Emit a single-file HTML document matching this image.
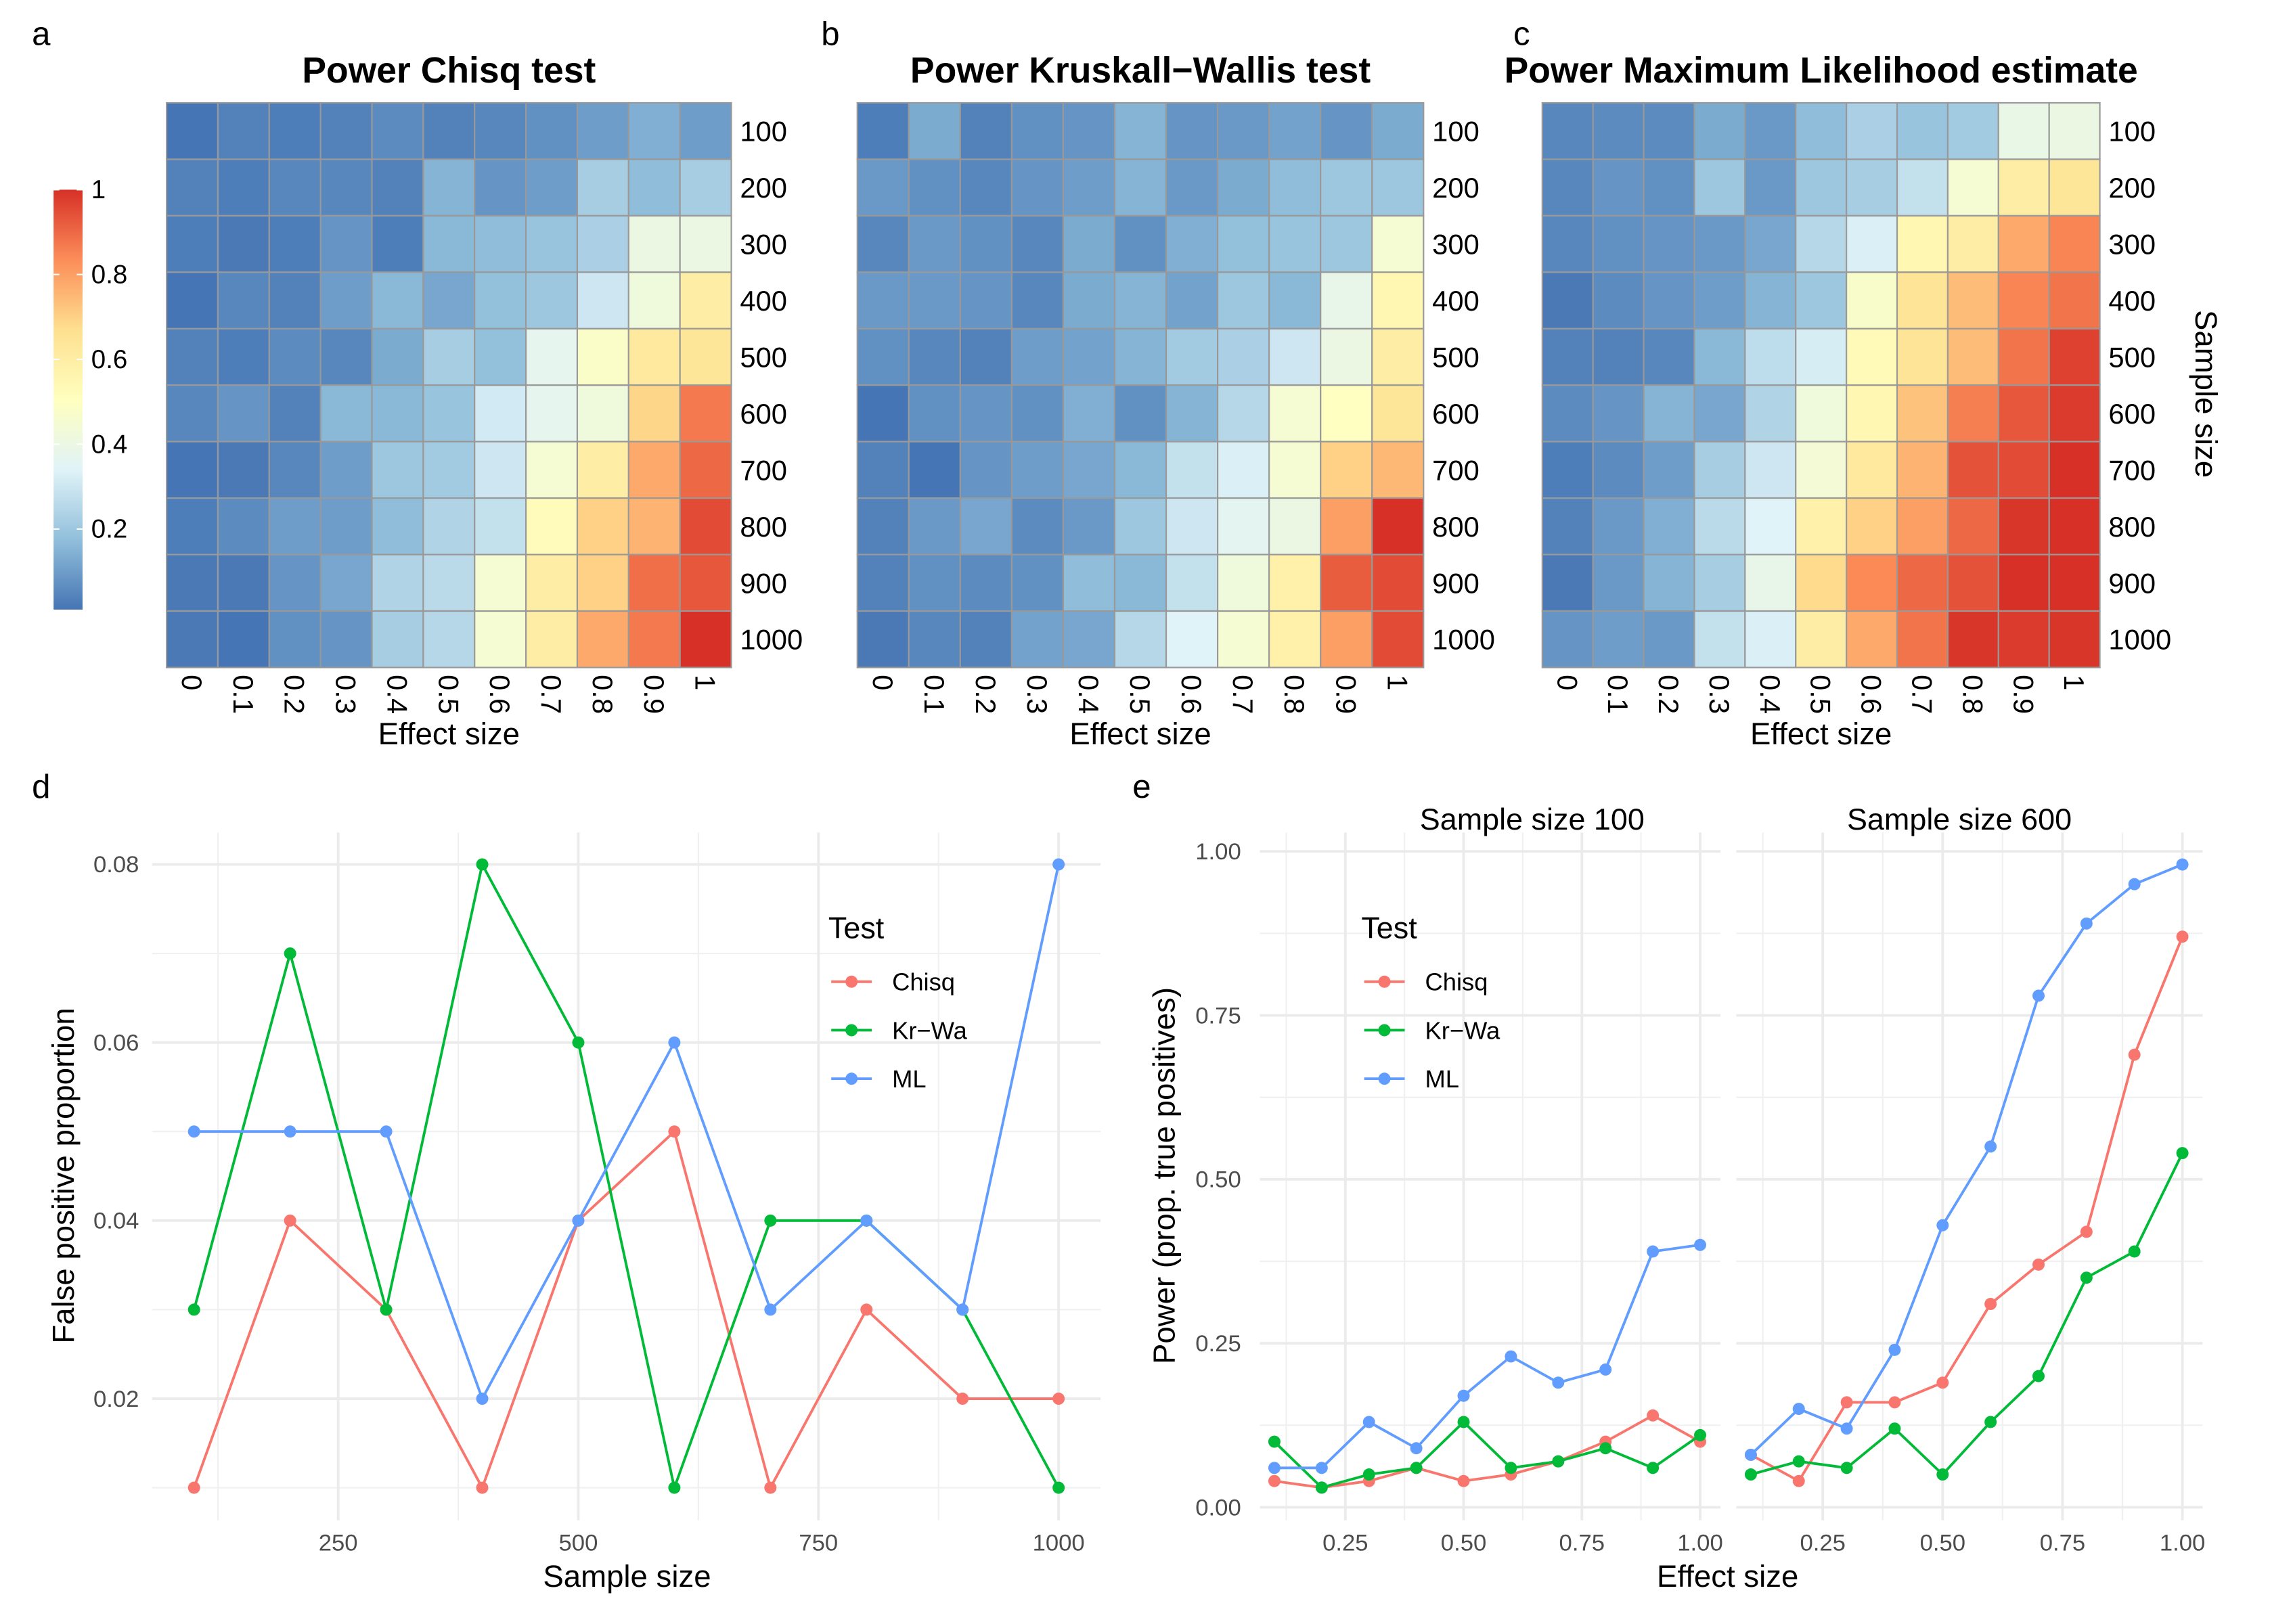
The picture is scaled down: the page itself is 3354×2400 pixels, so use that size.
<!DOCTYPE html>
<html><head><meta charset="utf-8"><style>
html,body{margin:0;padding:0;background:#fff}
svg{display:block;font-family:"Liberation Sans",sans-serif}
</style></head><body>
<svg id="fig" xmlns="http://www.w3.org/2000/svg" width="3354" height="2400" viewBox="0 0 1567.5 1121.6">
<rect width="1567.5" height="1121.6" fill="#fff"/>
<g id="root"></g>
</svg>
<script>
// ---------- Data ----------
const effectSizes = [0,0.1,0.2,0.3,0.4,0.5,0.6,0.7,0.8,0.9,1];
const effectLabels = ["0","0.1","0.2","0.3","0.4","0.5","0.6","0.7","0.8","0.9","1"];
const sampleSizes = [100,200,300,400,500,600,700,800,900,1000];
const powerChisq = [
[0.01,0.04,0.03,0.04,0.06,0.04,0.05,0.07,0.10,0.14,0.10],
[0.04,0.03,0.05,0.05,0.04,0.15,0.08,0.10,0.22,0.17,0.22],
[0.03,0.02,0.03,0.08,0.03,0.16,0.17,0.19,0.23,0.40,0.40],
[0.01,0.05,0.04,0.10,0.16,0.12,0.18,0.20,0.30,0.42,0.60],
[0.04,0.03,0.06,0.05,0.13,0.22,0.18,0.37,0.48,0.62,0.64],
[0.05,0.08,0.04,0.16,0.16,0.19,0.31,0.37,0.42,0.69,0.87],
[0.01,0.02,0.05,0.10,0.20,0.21,0.30,0.45,0.60,0.78,0.90],
[0.03,0.06,0.10,0.10,0.17,0.24,0.28,0.52,0.70,0.76,0.95],
[0.02,0.02,0.08,0.12,0.24,0.26,0.45,0.60,0.70,0.89,0.93],
[0.02,0.01,0.07,0.08,0.22,0.25,0.45,0.60,0.78,0.87,1.00]];
const powerKrWa = [
[0.03,0.13,0.04,0.07,0.08,0.15,0.08,0.09,0.11,0.08,0.13],
[0.09,0.07,0.05,0.08,0.10,0.15,0.09,0.13,0.17,0.20,0.20],
[0.05,0.09,0.07,0.05,0.13,0.07,0.14,0.18,0.19,0.20,0.45],
[0.09,0.09,0.08,0.05,0.13,0.15,0.11,0.20,0.16,0.38,0.55],
[0.07,0.05,0.04,0.10,0.11,0.15,0.21,0.23,0.30,0.40,0.60],
[0.01,0.07,0.08,0.07,0.14,0.07,0.15,0.25,0.45,0.50,0.64],
[0.04,0.01,0.08,0.10,0.12,0.16,0.28,0.33,0.45,0.70,0.75],
[0.04,0.09,0.12,0.06,0.09,0.20,0.30,0.36,0.40,0.80,1.00],
[0.04,0.07,0.06,0.07,0.17,0.16,0.28,0.42,0.58,0.92,0.95],
[0.02,0.05,0.04,0.11,0.12,0.25,0.34,0.45,0.58,0.80,0.95]];
const powerML = [
[0.05,0.06,0.06,0.13,0.09,0.17,0.23,0.19,0.21,0.39,0.40],
[0.05,0.08,0.07,0.20,0.09,0.20,0.22,0.28,0.45,0.60,0.64],
[0.05,0.07,0.08,0.09,0.12,0.25,0.33,0.55,0.60,0.78,0.85],
[0.02,0.06,0.08,0.10,0.15,0.20,0.47,0.65,0.74,0.85,0.88],
[0.04,0.04,0.05,0.16,0.27,0.32,0.53,0.65,0.74,0.88,0.97],
[0.06,0.08,0.15,0.12,0.24,0.42,0.55,0.73,0.86,0.93,0.98],
[0.03,0.06,0.10,0.22,0.30,0.44,0.62,0.76,0.94,0.95,1.00],
[0.04,0.09,0.14,0.26,0.34,0.58,0.70,0.80,0.90,0.99,1.00],
[0.02,0.09,0.15,0.22,0.38,0.68,0.84,0.90,0.94,1.00,1.00],
[0.08,0.10,0.09,0.28,0.33,0.60,0.78,0.88,0.99,0.98,0.99]];
const colorbarTicks = [0.2,0.4,0.6,0.8,1];
const colorbarLabels = ["0.2","0.4","0.6","0.8","1"];

const fpSamples = [100,200,300,400,500,600,700,800,900,1000];
const fpChisq = [0.01,0.04,0.03,0.01,0.04,0.05,0.01,0.03,0.02,0.02];
const fpKrWa  = [0.03,0.07,0.03,0.08,0.06,0.01,0.04,0.04,0.03,0.01];
const fpML    = [0.05,0.05,0.05,0.02,0.04,0.06,0.03,0.04,0.03,0.08];
const fpXTicks = [250,500,750,1000];
const fpYTicks = [0.02,0.04,0.06,0.08];
const fpYLabels = ["0.02","0.04","0.06","0.08"];

const effE = [0.1,0.2,0.3,0.4,0.5,0.6,0.7,0.8,0.9,1.0];
const e100Chisq = [0.04,0.03,0.04,0.06,0.04,0.05,0.07,0.10,0.14,0.10];
const e100KrWa  = [0.10,0.03,0.05,0.06,0.13,0.06,0.07,0.09,0.06,0.11];
const e100ML    = [0.06,0.06,0.13,0.09,0.17,0.23,0.19,0.21,0.39,0.40];
const e600Chisq = [0.08,0.04,0.16,0.16,0.19,0.31,0.37,0.42,0.69,0.87];
const e600KrWa  = [0.05,0.07,0.06,0.12,0.05,0.13,0.20,0.35,0.39,0.54];
const e600ML    = [0.08,0.15,0.12,0.24,0.43,0.55,0.78,0.89,0.95,0.98];
const eXTicks = [0.25,0.5,0.75,1.0];
const eXLabels = ["0.25","0.50","0.75","1.00"];
const eYTicks = [0,0.25,0.5,0.75,1.0];
const eYLabels = ["0.00","0.25","0.50","0.75","1.00"];

const seriesNames = ["Chisq","Kr\u2212Wa","ML"];
const seriesColors = ["#F8766D","#00BA38","#619CFF"];

// ---------- helpers ----------
const NS="http://www.w3.org/2000/svg";
const root=document.getElementById('root');
function mk(tag,attrs,parent,text){const e=document.createElementNS(NS,tag);for(const k in attrs)e.setAttribute(k,attrs[k]);if(text!==undefined)e.textContent=text;(parent||root).appendChild(e);return e;}
const pal=["#4575b4","#91bfdb","#e0f3f8","#ffffbf","#fee090","#fc8d59","#d73027"];
const vmin=0.01,vmax=1;
function hex(c){return [1,3,5].map(i=>parseInt(c.substr(i,2),16));}
function col(v){let t=(v-vmin)/(vmax-vmin);t=Math.max(0,Math.min(1,t));const p=t*(pal.length-1);const i=Math.min(pal.length-2,Math.floor(p));const f=p-i;const a=hex(pal[i]),b=hex(pal[i+1]);return "rgb("+a.map((x,j)=>Math.round(x+(b[j]-x)*f)).join(",")+")";}

// ---------- heatmaps ----------
function heatmap(data,x0,x1,y0,y1,title,letter,lx,name){
  const g=mk('g',{});
  
  
  const cw=(x1-x0)/effectSizes.length, ch=(y1-y0)/sampleSizes.length;
  const xs=i=>x0+i*cw, ys=j=>y0+j*ch;
  data.forEach((row,j)=>row.forEach((v,i)=>{
    const r=mk('rect',{x:xs(i),y:ys(j),width:cw,height:ch,fill:col(v),stroke:'#999',"stroke-width":1},g);
    
    
  }));
  sampleSizes.forEach((s,j)=>{const t=mk('text',{x:x1+6,y:ys(j)+ch/2+7,"font-size":19.5,fill:'#000'},g,String(s));
    });
  effectLabels.forEach((l,i)=>{const cx=xs(i)+cw/2;const t=mk('text',{x:0,y:0,"font-size":19.5,fill:'#000',transform:`translate(${cx-7},${y1+5}) rotate(90)`},g,l);
    });
  const tt=mk('text',{x:(x0+x1)/2,y:57,"font-size":25,"font-weight":"bold","text-anchor":"middle"},g,title);
  
  const xt=mk('text',{x:(x0+x1)/2,y:514,"font-size":21.3,"text-anchor":"middle"},g,"Effect size");
  
  const lt=mk('text',{x:lx,y:31,"font-size":23},g,letter);
  
}
heatmap(powerChisq,115,505,71,461,"Power Chisq test","a",22,"heatmap-chisq");
heatmap(powerKrWa,592,983,71,461,"Power Kruskall\u2212Wallis test","b",567,"heatmap-kruskal");
heatmap(powerML,1065,1450,71,461,"Power Maximum Likelihood estimate","c",1045,"heatmap-ml");
{const t=mk('text',{x:0,y:0,"font-size":21.3,"text-anchor":"middle",transform:"translate(1516,272) rotate(90)"},root,"Sample size");
}

// colorbar
{const g=mk('g',{});
 const d=mk('defs',{},g);const lg=mk('linearGradient',{id:'cb',x1:0,y1:1,x2:0,y2:0},d);
 pal.forEach((c,i)=>mk('stop',{offset:i/(pal.length-1),"stop-color":c},lg));
 const top=131,bot=421;const cy=v=>bot-(v-vmin)/(vmax-vmin)*(bot-top);
 mk('rect',{x:37,y:top,width:20,height:bot-top,fill:'url(#cb)'},g);
 colorbarTicks.forEach((v,i)=>{mk('line',{x1:37,x2:41,y1:cy(v),y2:cy(v),stroke:'#fff'},g);mk('line',{x1:53,x2:57,y1:cy(v),y2:cy(v),stroke:'#fff'},g);
  const t=mk('text',{x:63,y:cy(v)+6,"font-size":18},g,colorbarLabels[i]);});
}

// ---------- panel d ----------
{const g=mk('g',{});
 const X=v=>134+(v-100)*(731-134)/900, Y=v=>1027.5-(v-0.01)*(1027.5-597)/0.07;
 const L=105,R=760,T=575,B=1050;
 [125,375,625,875].forEach(v=>mk('line',{x1:X(v),x2:X(v),y1:T,y2:B,stroke:'#f0f0f0',"stroke-width":1},g));
 [0.01,0.03,0.05,0.07].forEach(v=>mk('line',{x1:L,x2:R,y1:Y(v),y2:Y(v),stroke:'#f0f0f0',"stroke-width":1},g));
 fpXTicks.forEach(v=>{mk('line',{x1:X(v),x2:X(v),y1:T,y2:B,stroke:'#ebebeb',"stroke-width":1.8},g);
  const t=mk('text',{x:X(v),y:1071,"font-size":16.2,fill:'#4d4d4d',"text-anchor":"middle"},g,String(v));});
 fpYTicks.forEach((v,i)=>{mk('line',{x1:L,x2:R,y1:Y(v),y2:Y(v),stroke:'#ebebeb',"stroke-width":1.8},g);
  const t=mk('text',{x:96,y:Y(v)+5.5,"font-size":16.2,fill:'#4d4d4d',"text-anchor":"end"},g,fpYLabels[i]);});
 [fpChisq,fpKrWa,fpML].forEach((arr,k)=>{
  const pl=mk('polyline',{points:arr.map((v,i)=>X(fpSamples[i])+","+Y(v)).join(" "),fill:'none',stroke:seriesColors[k],"stroke-width":1.8},g);
  
  arr.forEach((v,i)=>{const c=mk('circle',{cx:X(fpSamples[i]),cy:Y(v),r:4.2,fill:seriesColors[k]},g);});
 });
 const xt=mk('text',{x:433,y:1096,"font-size":21.3,"text-anchor":"middle"},g,"Sample size");
 const yt=mk('text',{x:0,y:0,"font-size":21.3,"text-anchor":"middle",transform:"translate(51,812) rotate(-90)"},g,"False positive proportion");
 const lt=mk('text',{x:22,y:551,"font-size":23},g,"d");
 legend(g,572);
}
function legend(g,x){
 const lg=mk('g',{},g);
 mk('text',{x:x,y:648,"font-size":21},lg,"Test");
 seriesNames.forEach((n,k)=>{const y=678+k*33.5;
  const e=mk('g',{},lg);
  mk('line',{x1:x+2,x2:x+30,y1:y,y2:y,stroke:seriesColors[k],"stroke-width":1.8},e);
  mk('circle',{cx:x+16,cy:y,r:4.2,fill:seriesColors[k]},e);
  mk('text',{x:x+44,y:y+6,"font-size":17},e,n);});
}

// ---------- panel e ----------
{const g=mk('g',{});
 const Y=v=>1041-v*(1041-588);
 const T=575,B=1050;
 const facets=[{tx:1058,L:870,R:1188,title:"Sample size 100",d:[e100Chisq,e100KrWa,e100ML]},{tx:1353,L:1199,R:1521,title:"Sample size 600",d:[e600Chisq,e600KrWa,e600ML]}];
 facets.forEach((f,fi)=>{
  const X=v=>f.L+10+(v-0.1)*(f.R-f.L-24)/0.9;
  const fg=mk('g',{},g);
  [0.125,0.375,0.625,0.875].forEach(v=>mk('line',{x1:f.L,x2:f.R,y1:Y(v),y2:Y(v),stroke:'#f0f0f0'},fg));
  [0.125,0.375,0.625,0.875].forEach(v=>mk('line',{x1:X(v),x2:X(v),y1:T,y2:B,stroke:'#f0f0f0'},fg));
  eYTicks.forEach(v=>mk('line',{x1:f.L,x2:f.R,y1:Y(v),y2:Y(v),stroke:'#ebebeb',"stroke-width":1.8},fg));
  eXTicks.forEach((v,i)=>{mk('line',{x1:X(v),x2:X(v),y1:T,y2:B,stroke:'#ebebeb',"stroke-width":1.8},fg);
   const t=mk('text',{x:X(v),y:1071,"font-size":16.2,fill:'#4d4d4d',"text-anchor":"middle"},fg,eXLabels[i]);});
  const st=mk('text',{x:f.tx,y:573,"font-size":21,"text-anchor":"middle"},fg,f.title);
  f.d.forEach((arr,k)=>{
   const pl=mk('polyline',{points:arr.map((v,i)=>X(effE[i])+","+Y(v)).join(" "),fill:'none',stroke:seriesColors[k],"stroke-width":1.8},fg);
   
   arr.forEach((v,i)=>{const c=mk('circle',{cx:X(effE[i]),cy:Y(v),r:4.2,fill:seriesColors[k]},fg);});
  });
 });
 eYTicks.forEach((v,i)=>{const t=mk('text',{x:857,y:Y(v)+5.5,"font-size":16.2,fill:'#4d4d4d',"text-anchor":"end"},g,eYLabels[i]);});
 const xt=mk('text',{x:1193,y:1096,"font-size":21.3,"text-anchor":"middle"},g,"Effect size");
 const yt=mk('text',{x:0,y:0,"font-size":21.3,"text-anchor":"middle",transform:"translate(811,812) rotate(-90)"},g,"Power (prop. true positives)");
 const lt=mk('text',{x:782,y:551,"font-size":23},g,"e");
 legend(g,940);
}
</script>
</body></html>
